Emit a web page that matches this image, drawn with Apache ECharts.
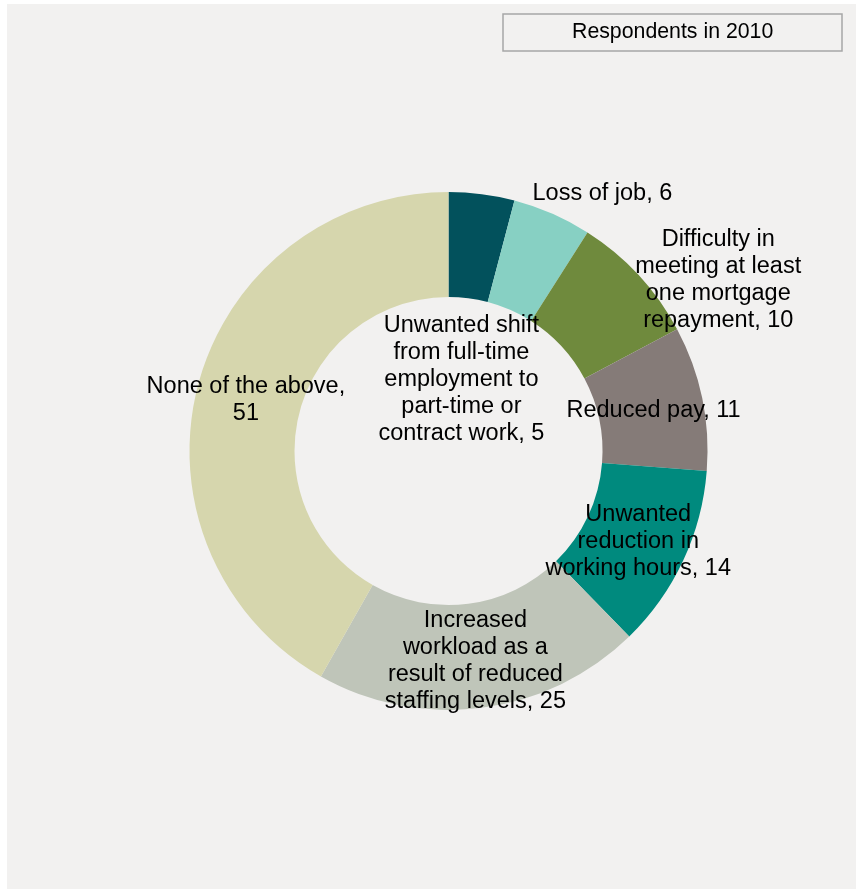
<!DOCTYPE html>
<html>
<head>
<meta charset="utf-8">
<title>Respondents in 2010</title>
<script src="https://cdn.jsdelivr.net/npm/echarts@6/dist/echarts.min.js"></script>
<style>
  html, body { margin: 0; padding: 0; background: #ffffff; }
  #chart { width: 856px; height: 890px; }
</style>
</head>
<body>
<div id="chart"></div>
<script>
// Survey categories, clockwise from 12 o'clock
const categories = [
  'Unwanted shift\nfrom full-time\nemployment to\npart-time or\ncontract work',
  'Loss of job',
  'Difficulty in\nmeeting at least\none mortgage\nrepayment,',
  'Reduced pay',
  'Unwanted\nreduction in\nworking hours',
  'Increased\nworkload as a\nresult of reduced\nstaffing levels',
  'None of the above,\n'
];
const values = [5, 6, 10, 11, 14, 25, 51];
const colors = ['#02515c', '#87d0c3', '#6f8a3d', '#857b78', '#008a7e', '#bfc5b9', '#d6d6ad'];
const titleText = 'Respondents in 2010';

// A few labels sit away from the middle of their ring segment
const labelShift = { 0: [-14, 134], 1: [70, -68], 2: [116, -31] };

const FONT = '"Liberation Sans", Arial, sans-serif';

const chart = echarts.init(document.getElementById('chart'), null, { renderer: 'canvas' });

const data = categories.map((name, i) => ({
  name: name,
  value: values[i],
  itemStyle: { color: colors[i] }
}));

function labelText(p) {
  const n = p.name;
  if (n.endsWith('\n')) return n + p.value;
  if (n.endsWith(',')) return n + ' ' + p.value;
  return n + ', ' + p.value;
}

chart.setOption({
  backgroundColor: '#ffffff',
  animation: false,
  graphic: [{
    type: 'rect',
    z: -10,
    silent: true,
    shape: { x: 7, y: 4, width: 849, height: 885 },
    style: { fill: '#f2f1f0' }
  }],
  title: {
    text: titleText,
    left: 503,
    top: 14,
    padding: [6, 69, 6, 69],
    borderColor: '#a6a6a6',
    borderWidth: 1.5,
    textStyle: {
      fontFamily: FONT,
      fontSize: 21.3,
      fontWeight: 'normal',
      color: '#000000',
      lineHeight: 25
    }
  },
  series: [{
    type: 'pie',
    center: [448.5, 451],
    radius: [154, 259],
    startAngle: 90,
    clockwise: true,
    avoidLabelOverlap: false,
    emphasis: { disabled: true },
    itemStyle: { borderWidth: 0 },
    label: {
      show: true,
      position: 'inside',
      fontFamily: FONT,
      fontSize: 23.5,
      lineHeight: 27,
      color: '#000000',
      align: 'center',
      formatter: labelText
    },
    labelLine: { show: false },
    labelLayout: function (params) {
      const s = labelShift[params.dataIndex] || [0, 0];
      return { dx: s[0], dy: s[1] + 2 };
    },
    data: data
  }]
});
</script>
</body>
</html>
